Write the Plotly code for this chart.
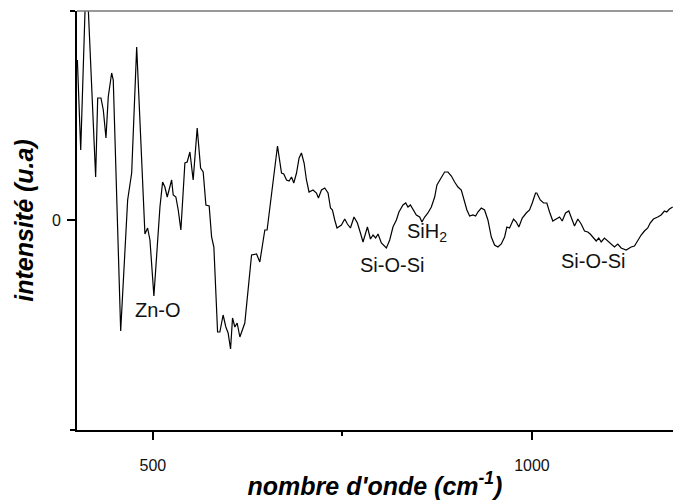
import plotly.graph_objects as go

# wavenumber (cm^-1) and intensity (arbitrary units, 0 = baseline)
wavenumber = [400.5, 404.9, 412.4, 424.6, 427.3, 431.6, 434.7, 438.2, 441.2, 445.7,
              447.8, 452.3, 457.6, 466.8, 472.1, 478.7, 489.6, 493.1, 496.2, 501.4,
              509.4, 512.9, 515.9, 519.0, 521.6, 524.8, 526.9, 530.4, 533.5, 537.0,
              542.3, 545.3, 548.9, 553.2, 558.5, 563.0, 566.4, 570.0, 574.3, 577.5,
              580.5, 585.4, 588.4, 592.7, 596.3, 599.3, 602.5, 605.1, 608.2, 611.2,
              614.8, 621.3, 630.2, 636.8, 641.1, 647.7, 650.7, 658.6, 664.4, 669.7,
              672.7, 676.3, 679.7, 682.9, 685.9, 689.5, 692.9, 696.0, 699.5, 702.6,
              706.0, 711.3, 715.8, 718.4, 722.4, 726.7, 731.1, 734.3, 736.9, 739.9,
              742.9, 748.7, 753.1, 756.6, 760.6, 765.3, 769.8, 773.8, 777.2, 783.0,
              787.0, 790.4, 793.9, 797.0, 801.4, 808.0, 812.4, 816.7, 821.2, 824.6,
              829.9, 833.5, 836.5, 839.7, 843.1, 847.5, 851.9, 854.9, 858.5, 862.8,
              867.3, 871.7, 874.7, 878.3, 881.8, 884.8, 889.2, 893.7, 898.0, 902.4,
              906.8, 909.9, 914.2, 917.8, 922.1, 925.7, 928.7, 933.2, 937.5, 941.9,
              946.4, 950.7, 955.1, 959.5, 963.9, 966.9, 970.5, 975.7, 979.3, 982.7,
              987.2, 992.5, 996.8, 1000.4, 1004.7, 1006.4, 1010.9, 1015.3, 1019.6, 1023.2,
              1027.5, 1032.0, 1036.4, 1039.9, 1044.3, 1048.6, 1051.8, 1056.1, 1060.5, 1064.9,
              1069.3, 1073.6, 1076.8, 1080.2, 1084.7, 1088.1, 1091.3, 1095.6, 1100.0, 1104.5,
              1108.8, 1113.2, 1117.6, 1124.2, 1130.8, 1135.2, 1139.5, 1144.0, 1148.3, 1152.7,
              1155.9, 1160.2, 1165.9, 1170.3, 1174.7, 1177.7, 1181.3, 1185.6]
intensity = [160, 70, 254, 43, 122, 122, 110, 82, 123, 147,
             140, 20, -111, 20, 47, 173, -14, -8, -20, -76,
             13, 38, 33, 23, 30, 40, 25, 23, 10, -10,
             57, 58, 68, 40, 92, 52, 48, 15, 14, -17,
             -27, -112, -112, -95, -107, -113, -129, -98, -107, -103,
             -117, -103, -35, -34, -42, -10, -10, 40, 74, 47,
             46, 40, 39, 43, 37, 47, 62, 67, 57, 40,
             28, 30, 27, 22, 30, 32, 27, 12, 10, 0,
             -8, -5, 1, -4, -8, 3, -3, -13, -22, -7,
             -19, -15, -18, -14, -23, -28, -20, -7, 0, 8,
             15, 17, 13, 15, 10, 5, 3, -2, 3, 7,
             13, 23, 35, 40, 45, 48, 48, 44, 38, 33,
             30, 22, 10, 4, 5, 4, 8, 12, 10, 0,
             -17, -25, -27, -24, -17, -7, -8, 1, -2, -7,
             2, 7, 10, 17, 27, 27, 20, 17, 17, 8,
             -1, 1, 3, -1, 7, 9, 3, -6, 1, -4,
             -11, -12, -14, -17, -21, -18, -22, -18, -21, -25,
             -27, -24, -28, -30, -27, -26, -20, -15, -11, -8,
             -3, 1, 3, 5, 9, 8, 11, 13]

# band labels
band_text = ["Zn-O", "Si-O-Si", "SiH<sub>2</sub>", "Si-O-Si"]
band_x = [507.4, 815, 832, 1081]
band_y = [-89.5, -45, -12, -40.5]
band_anchor = ["center", "center", "left", "center"]

x_range = [400, 1186]
y_range = [-210, 209]
x_major = [500, 1000]
x_minor = [750]
y_major = [0]
y_minor = [-210, 209]

fig = go.Figure()
fig.add_trace(go.Scatter(x=wavenumber, y=intensity, mode="lines",
                         line=dict(color="black", width=1.2), showlegend=False,
                         hoverinfo="skip"))

for t, bx, by, anc in zip(band_text, band_x, band_y, band_anchor):
    fig.add_annotation(x=bx, y=by, text=t, showarrow=False, xanchor=anc, yanchor="middle",
                       font=dict(family="Liberation Sans, Arial", size=20, color="#111"))

# top border (grey)
fig.add_shape(type="line", xref="paper", yref="paper", x0=0, x1=1, y0=1, y1=1,
              line=dict(color="#777", width=1.5))

fig.update_xaxes(range=x_range, showgrid=False, zeroline=False,
                 showline=True, linecolor="black", linewidth=2,
                 ticks="outside", tickvals=x_major, ticklen=8, tickwidth=1.5, tickcolor="black",
                 ticklabelstandoff=12,
                 minor=dict(tickvals=x_minor, ticks="outside", ticklen=4, tickwidth=1.5, tickcolor="black"),
                 tickfont=dict(family="Liberation Sans, Arial", size=16, color="#111"),
                 title=dict(text="<b><i>nombre d'onde (cm<sup>-1</sup>)</i></b>",
                            font=dict(family="Liberation Sans, Arial", size=25, color="black"),
                            standoff=4))
fig.update_yaxes(range=y_range, showgrid=False, zeroline=False,
                 showline=True, linecolor="black", linewidth=2,
                 ticks="outside", tickvals=y_major, ticktext=["0"], ticklen=8, tickwidth=1.5,
                 tickcolor="black", ticklabelstandoff=3,
                 minor=dict(tickvals=y_minor, ticks="outside", ticklen=5, tickwidth=1.5, tickcolor="black"),
                 tickfont=dict(family="Liberation Sans, Arial", size=16, color="#111"),
                 title=dict(text="<b><i>intensité (u.a)</i></b>",
                            font=dict(family="Liberation Sans, Arial", size=25, color="black"),
                            standoff=11))

fig.update_layout(width=673, height=504, plot_bgcolor="white", paper_bgcolor="white",
                  margin=dict(l=77, r=0, t=11, b=74))

fig.write_html("out.html")
